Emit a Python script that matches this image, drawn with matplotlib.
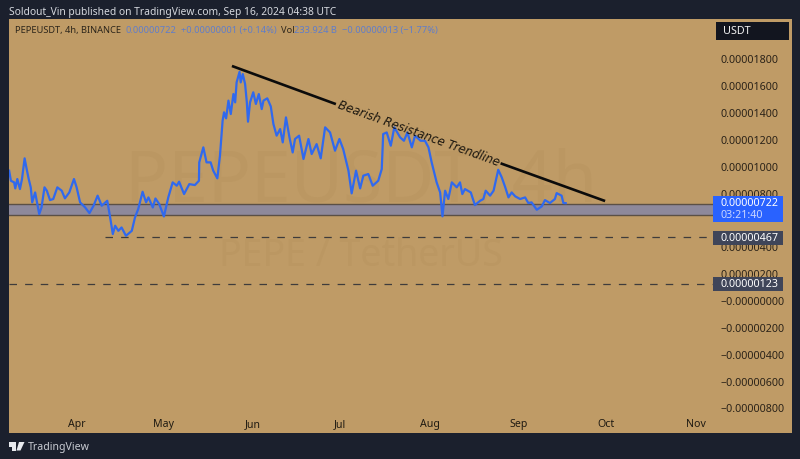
"""PEPEUSDT 4h TradingView snapshot with a bearish resistance trendline."""
import matplotlib
matplotlib.use("Agg")
import matplotlib.pyplot as plt
from matplotlib.patches import Polygon, Rectangle

plt.rcParams["font.family"] = ["Noto Sans", "DejaVu Sans"]

W, H = 800, 460
BG_DARK = "#1b202d"
PANEL = "#bf9b66"
WATERMARK = "#bb9762"
BLUE = "#3069ee"
INK = "#2a2218"
LEGEND_BLUE = "#5f7dcb"

# price line, x in chart days from the Apr tick, y in units of 1e-6 USDT
days = [-22.9, -22.3, -21.2, -20.8, -20.1, -19.2, -18.5, -17.6, -16.9, -16.2, -15.5, -15.0, -14.0, -12.6,
        -11.8, -10.8, -10.0, -8.9, -7.8, -6.4, -4.9, -3.8, -2.3, -0.7, 0.2, 1.4, 3.1, 4.6, 6.0, 7.4, 8.8,
        10.7, 11.6, 12.6, 13.4, 14.5, 15.6, 17.1, 19.1, 20.2, 21.3, 22.8, 24.0, 24.8, 26.3, 27.2, 28.5,
        30.1, 31.6, 33.1, 34.5, 35.3, 37.0, 38.8, 40.7, 42.1, 42.2, 43.6, 44.7, 46.1, 47.0, 48.4, 49.3,
        50.2, 50.7, 51.4, 52.2, 53.0, 53.9, 54.5, 55.0, 56.0, 56.4, 57.1, 57.9, 58.5, 58.9, 59.6, 60.7,
        61.6, 62.6, 63.6, 64.2,
        65.5, 66.7, 67.6, 68.7, 69.9, 70.8, 71.9, 73.1, 74.2, 75.0, 76.4, 77.9, 79.6, 80.7, 82.4, 83.8,
        85.3, 87.0, 88.7, 90.2, 91.5, 93.3, 94.4, 95.9, 97.3, 98.4, 100.1, 101.6, 103.5, 104.7, 105.2,
        106.4, 107.8, 109.0, 111.0, 112.3, 113.5, 115.0, 116.1, 118.0, 119.5, 120.7, 121.8, 123.5, 124.7,
        125.5, 126.4, 127.5, 128.7, 130.4, 131.5, 132.3, 133.2, 135.2, 136.6, 138.4, 139.5, 140.3, 141.8,
        143.0, 144.6, 145.8, 147.0, 148.1, 149.2, 150.4, 152.1, 153.8, 154.9, 156.0, 157.8, 159.5, 160.6,
        162.3, 164.0, 164.6, 166.3, 166.9, 167.7]
prices = [9.64, 8.89, 8.77, 8.32, 9.02, 8.27, 9.02, 10.56, 9.76, 9.02, 8.40, 7.28, 8.02, 6.41,
          6.91, 8.40, 8.15, 7.45, 7.53, 8.40, 8.15, 7.58, 8.02, 9.02, 8.40, 7.28, 6.91, 6.48, 7.03, 7.78, 7.03,
          7.40, 6.28, 4.92, 5.54, 5.16, 5.41, 4.79, 5.16, 6.16, 6.78, 8.07, 7.28, 7.65, 6.90, 7.57, 7.15,
          6.23, 7.65, 8.77, 8.52, 8.82, 7.90, 8.64, 8.57, 8.89, 10.26, 11.38, 10.26, 10.26, 9.64, 9.07, 10.76,
          13.36, 13.99, 13.54, 14.86, 13.86, 15.35, 14.73, 16.22, 17.00, 16.22, 16.84, 16.10, 14.73, 13.29, 14.73, 15.48,
          14.61, 15.35, 14.23, 14.86,
          15.03, 14.43, 13.12, 12.25, 12.74, 11.75, 13.61, 12.12, 11.00, 12.00, 12.25, 10.51, 12.00, 10.88, 11.62, 10.56,
          12.87, 12.49, 11.13, 12.00, 11.25, 9.64, 7.95, 9.64, 8.32, 9.27, 9.39, 8.52, 8.89, 9.76, 12.37,
          12.49, 11.50, 12.87, 12.12, 11.87, 12.49, 11.38, 12.25, 11.87, 11.87, 11.38, 10.26, 8.77, 8.02,
          6.24, 8.15, 7.53, 8.77, 8.40, 8.77, 7.90, 8.27, 8.02, 7.08, 7.40, 7.53, 8.15, 7.78,
          8.15, 9.71, 9.14, 8.40, 7.65, 8.02, 7.73, 7.53, 7.65, 7.23, 7.28, 6.73, 6.98, 7.45,
          7.23, 7.53, 7.97, 7.78, 7.23, 7.22]

trend_left_x = [53.4, 89.0]
trend_left_y = [17.44, 14.60]
trend_right_x = [145.4, 181.2]
trend_right_y = [10.19, 7.38]

zone_low, zone_high = 6.33, 7.15
support_levels = [4.67, 1.23]
support_starts = [9.9, -22.9]

month_pos = [0.2, 29.8, 60.6, 90.4, 121.2, 151.7, 181.5, 212.3]
month_labels = ["Apr", "May", "Jun", "Jul", "Aug", "Sep", "Oct", "Nov"]
price_ticks = [18, 16, 14, 12, 10, 8, 4, 2, 0, -2, -4, -6, -8]
price_labels = ["0.00001800", "0.00001600", "0.00001400", "0.00001200", "0.00001000", "0.00000800",
                "0.00000400", "0.00000200", "\u22120.00000000", "\u22120.00000200",
                "\u22120.00000400", "\u22120.00000600", "\u22120.00000800"]

X_MIN, X_MAX = -22.95, 245.2
Y_MIN, Y_MAX = -9.9, 20.94
LINE_END = 218.2


def fx(px):
    return px / W


def fy(py):
    return 1 - py / H


def label_box(x0, y0, x1, y1, color):
    fig.add_artist(Rectangle((fx(x0), fy(y1)), (x1 - x0) / W, (y1 - y0) / H, transform=fig.transFigure,
                             facecolor=color, edgecolor="none", zorder=5))


fig = plt.figure(figsize=(8, 4.6), dpi=100, facecolor=BG_DARK)
ax = fig.add_axes([fx(9), fy(434), 783 / W, 414 / H], facecolor=PANEL)
ax.set_xlim(X_MIN, X_MAX)
ax.set_ylim(Y_MIN, Y_MAX)
for s in ax.spines.values():
    s.set_visible(False)

# watermark
ax.text(0.45, 0.605, "PEPEUSDT, 4h", transform=ax.transAxes, ha="center", va="center",
        fontsize=51.5, color=WATERMARK, zorder=0.5)
ax.text(0.449, 0.43, "PEPE / TetherUS", transform=ax.transAxes, ha="center", va="center",
        fontsize=27, color=WATERMARK, zorder=0.5)

# ticks live inside the panel
ax.xaxis.tick_bottom()
ax.set_xticks(month_pos)
ax.set_xticklabels(month_labels, fontsize=7.6, color="#1f1a12")
ax.tick_params(axis="x", length=0, pad=-11)
ax.yaxis.tick_right()
ax.set_yticks(price_ticks)
ax.set_yticklabels(price_labels, fontsize=7.7, color=INK, ha="left")
ax.tick_params(axis="y", length=0, pad=-51.8)

# demand zone and support levels
ax.fill_between([X_MIN, LINE_END], zone_low, zone_high, color="#8e899b", lw=0, zorder=1)
for lvl in (zone_low, zone_high):
    ax.plot([X_MIN, LINE_END], [lvl, lvl], color="#5b5046", lw=1.0, zorder=1.2)
for lvl, start in zip(support_levels, support_starts):
    ax.plot([start, LINE_END], [lvl, lvl], color="#3f3c3c", lw=0.9, dashes=(6, 6.5), zorder=1.2)

ax.plot(days, prices, color=BLUE, lw=1.6, solid_joinstyle="round", zorder=2)

# trendline broken by its label
ax.plot(trend_left_x, trend_left_y, color="#0b0b0b", lw=1.9, solid_capstyle="butt", zorder=3)
ax.plot(trend_right_x, trend_right_y, color="#0b0b0b", lw=1.9, solid_capstyle="butt", zorder=3)
ax.text(117.2, 12.45, "Bearish Resistance Trendline", rotation=-19.9, rotation_mode="anchor",
        ha="center", va="center", fontsize=8.6, style="italic", color="#1d1810", zorder=3,
        family="DejaVu Sans")

# header and legend line
fig.text(fx(9), fy(12), "Soldout_Vin published on TradingView.com, Sep 16, 2024 04:38 UTC",
         fontsize=7.4, color="#d5d8de", va="center")
legend_bits = [(15, "PEPEUSDT, 4h, BINANCE", "#2d261b"), (125, "0.00000722", LEGEND_BLUE),
               (181, "+0.00000001 (+0.14%)", LEGEND_BLUE), (281, "Vol", "#2d261b"),
               (294, "233.924 B", LEGEND_BLUE), (342, "\u22120.00000013 (\u22121.77%)", LEGEND_BLUE)]
for px, txt, col in legend_bits:
    fig.text(fx(px), fy(31), txt, fontsize=6.7, color=col, va="center")

# currency button and last value boxes
label_box(715.5, 22.7, 789, 41.3, "#12151f")
fig.text(fx(723), fy(32), "USDT", fontsize=7.8, color="#f0f0f0", va="center", zorder=6)
label_box(713, 197, 783, 222.7, "#2962ff")
fig.text(fx(720.5), fy(204), "0.00000722", fontsize=7.7, color="white", va="center", weight="medium", zorder=6)
fig.text(fx(720.5), fy(216), "03:21:40", fontsize=7.7, color="#c9d6ff", va="center", zorder=6)
label_box(713, 231.7, 783, 245.7, "#3f4559")
fig.text(fx(720.5), fy(238.7), "0.00000467", fontsize=7.7, color="white", va="center", weight="medium", zorder=6)
label_box(713, 277.7, 783, 291.7, "#3f4559")
fig.text(fx(720.5), fy(284.7), "0.00000123", fontsize=7.7, color="white", va="center", weight="medium", zorder=6)

# TradingView mark
logo = "#e8eaee"
fig.add_artist(Rectangle((fx(9), fy(448)), 6.5 / W, 5 / H, transform=fig.transFigure, facecolor=logo, edgecolor="none"))
fig.add_artist(Rectangle((fx(12), fy(451.5)), 3.5 / W, 5 / H, transform=fig.transFigure, facecolor=logo, edgecolor="none"))
fig.add_artist(Polygon([(fx(19), fy(443)), (fx(24.5), fy(443)), (fx(20.5), fy(451.5)), (fx(16.5), fy(451.5))],
                       transform=fig.transFigure, facecolor=logo, edgecolor="none"))
fig.text(fx(28), fy(448), "TradingView", fontsize=7.6, color="#c9ccd3", va="center")

fig.savefig("out.png", dpi=100, facecolor=fig.get_facecolor())
